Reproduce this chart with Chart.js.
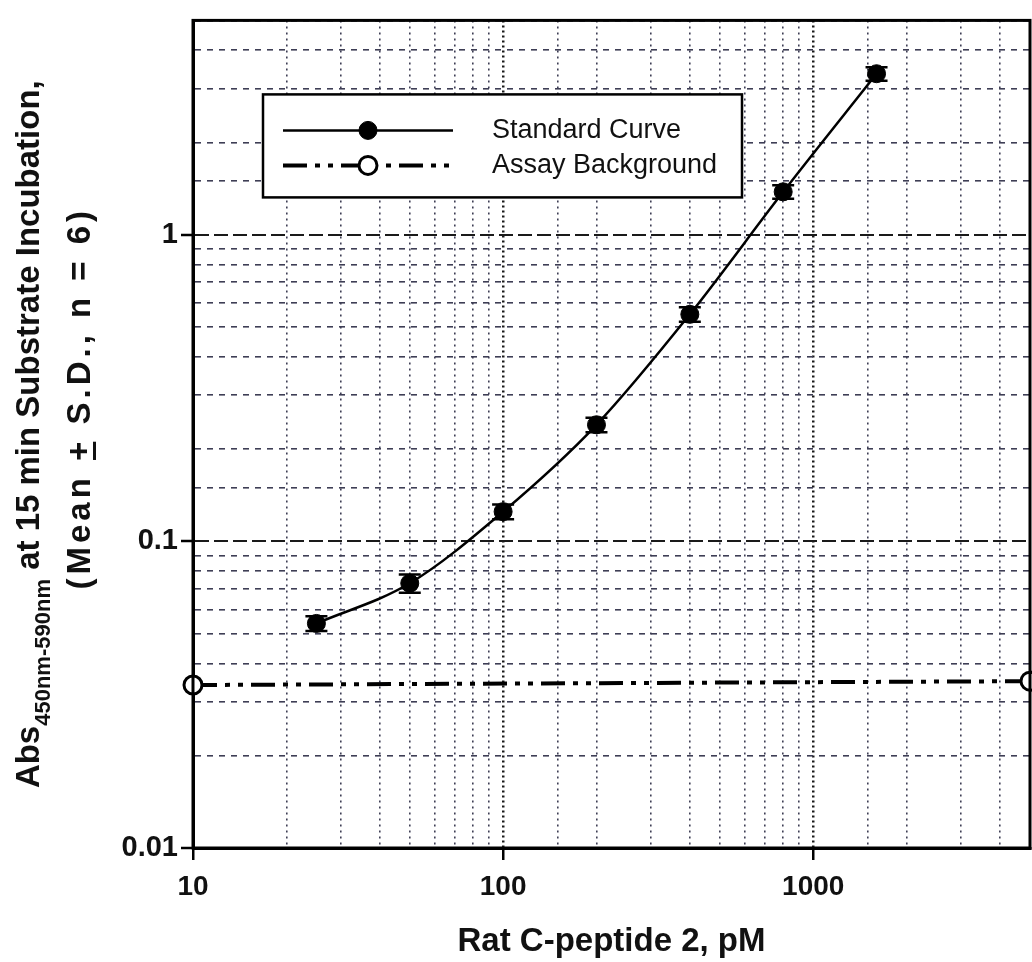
<!DOCTYPE html>
<html>
<head>
<meta charset="utf-8">
<title>Rat C-peptide 2 standard curve</title>
<script src="https://cdn.jsdelivr.net/npm/chart.js@4.4.1/dist/chart.umd.min.js"></script>
<style>
    html, body { margin: 0; padding: 0; background: #fff; }
    #wrap { position: relative; width: 1032px; height: 962px; }
</style>
</head>
<body>
<div id="wrap"><canvas id="curveChart"></canvas></div>
<script>
// --- Data ---
const concPM = [25, 50, 100, 200, 400, 800, 1600];
const absMean = [0.054, 0.073, 0.125, 0.24, 0.55, 1.38, 3.35];
const absSD = [0.003, 0.005, 0.007, 0.013, 0.03, 0.07, 0.17];

const bgConc = [10, 5000];
const bgAbs = [0.034, 0.035];

const xTickLabels = [10, 100, 1000];
const yTickLabels = [0.01, 0.1, 1];

const FONT = '"Liberation Sans", Arial, sans-serif';

function isDecade(v) {
    const l = Math.log10(v);
    return Math.abs(l - Math.round(l)) < 1e-6;
}
function findLabel(list, v) {
    return list.find(t => Math.abs(t - v) / t < 1e-6);
}

// --- Plugins ---

// full frame round the plot area
const framePlugin = {
    id: 'frame',
    afterDatasetsDraw(chart) {
        const { ctx, chartArea: a } = chart;
        ctx.save();
        ctx.strokeStyle = '#000';
        ctx.lineWidth = 3;
        ctx.strokeRect(a.left, a.top, a.right - a.left, a.bottom - a.top);
        ctx.restore();
    }
};

// mean +/- SD bars for the standard curve
const errorBarPlugin = {
    id: 'errorBars',
    beforeDatasetsDraw(chart) {
        const { ctx, scales: { x, y } } = chart;
        ctx.save();
        ctx.strokeStyle = '#000';
        ctx.lineWidth = 2.5;
        concPM.forEach((c, i) => {
            const px = x.getPixelForValue(c);
            const top = y.getPixelForValue(absMean[i] + absSD[i]);
            const bot = y.getPixelForValue(absMean[i] - absSD[i]);
            ctx.beginPath();
            ctx.moveTo(px, top); ctx.lineTo(px, bot);
            ctx.moveTo(px - 11, top); ctx.lineTo(px + 11, top);
            ctx.moveTo(px - 11, bot); ctx.lineTo(px + 11, bot);
            ctx.stroke();
        });
        ctx.restore();
    }
};

// boxed legend with line + marker samples
const boxLegendPlugin = {
    id: 'boxLegend',
    afterDraw(chart) {
        const { ctx, chartArea: a } = chart;
        const left = a.left + 70, top = a.top + 74;
        const w = 479, h = 103;
        ctx.save();
        ctx.fillStyle = '#fff';
        ctx.fillRect(left, top, w, h);
        ctx.strokeStyle = '#000';
        ctx.lineWidth = 2.5;
        ctx.strokeRect(left, top, w, h);

        const rows = [top + 36, top + 71];
        chart.data.datasets.forEach((ds, i) => {
            const ry = rows[i];
            ctx.strokeStyle = ds.borderColor;
            ctx.lineWidth = ds.borderWidth;
            ctx.setLineDash(ds.borderDash || []);
            ctx.beginPath();
            ctx.moveTo(left + 20, ry);
            ctx.lineTo(left + 190, ry);
            ctx.stroke();
            ctx.setLineDash([]);
            ctx.beginPath();
            ctx.arc(left + 105, ry, ds.pointRadius, 0, Math.PI * 2);
            ctx.fillStyle = ds.pointBackgroundColor;
            ctx.fill();
            ctx.lineWidth = ds.pointBorderWidth;
            ctx.strokeStyle = ds.pointBorderColor;
            ctx.stroke();

            ctx.fillStyle = '#111';
            ctx.font = '27px ' + FONT;
            ctx.textBaseline = 'middle';
            ctx.fillText(ds.label, left + 229, ry);
        });
        ctx.restore();
    }
};

// rotated y title with subscript and underlined plus
const yTitlePlugin = {
    id: 'yTitle',
    afterDraw(chart) {
        const { ctx, chartArea: a } = chart;
        const cy = (a.top + a.bottom) / 2;
        const main = 'bold 33px ' + FONT;
        const sub = 'bold 22px ' + FONT;

        ctx.save();
        ctx.fillStyle = '#111';
        ctx.textBaseline = 'alphabetic';

        // line 1
        ctx.save();
        ctx.translate(39, cy);
        ctx.rotate(-Math.PI / 2);
        const p1 = 'Abs', p2 = '450nm-590nm', p3 = ' at 15 min Substrate Incubation,';
        ctx.font = main;
        const w1 = ctx.measureText(p1).width, w3 = ctx.measureText(p3).width;
        ctx.font = sub;
        const w2 = ctx.measureText(p2).width;
        let x = -(w1 + w2 + w3) / 2;
        ctx.font = main; ctx.fillText(p1, x, 0); x += w1;
        ctx.font = sub; ctx.fillText(p2, x, 11); x += w2;
        ctx.font = main; ctx.fillText(p3, x, 0);
        ctx.restore();

        // line 2 (set a bit wider in the scan)
        ctx.save();
        ctx.translate(90, cy - 36);
        ctx.rotate(-Math.PI / 2);
        ctx.letterSpacing = '4px';
        const q1 = '(Mean ', q2 = '+', q3 = ' S.D., n = 6)';
        ctx.font = main;
        const v1 = ctx.measureText(q1).width, v2 = ctx.measureText(q2).width, v3 = ctx.measureText(q3).width;
        let s = -(v1 + v2 + v3) / 2;
        ctx.fillText(q1, s, 0);
        ctx.fillText(q2, s + v1, 0);
        ctx.fillRect(s + v1 + 1, 3, v2 - 5, 3);
        ctx.fillText(q3, s + v1 + v2, 0);
        ctx.restore();

        ctx.restore();
    }
};

// --- Chart ---

function gridStyle(majorColor, minorColor, majorWidth, minorWidth) {
    return {
        color: c => isDecade(c.tick.value) ? majorColor : minorColor,
        lineWidth: c => isDecade(c.tick.value) ? majorWidth : minorWidth,
        tickColor: c => isDecade(c.tick.value) ? '#000' : 'rgba(0,0,0,0)',
        tickLength: 12,
        tickWidth: 2.5,
        tickBorderDash: []
    };
}

Chart.defaults.font.family = FONT;
Chart.defaults.color = '#111';

new Chart(document.getElementById('curveChart').getContext('2d'), {
    type: 'line',
    data: {
        datasets: [
            {
                label: 'Standard Curve',
                data: concPM.map((c, i) => ({ x: c, y: absMean[i] })),
                borderColor: '#000',
                borderWidth: 2.5,
                cubicInterpolationMode: 'monotone',
                pointRadius: 9,
                pointBackgroundColor: '#000',
                pointBorderColor: '#000',
                pointBorderWidth: 1,
                clip: false
            },
            {
                label: 'Assay Background',
                data: bgConc.map((c, i) => ({ x: c, y: bgAbs[i] })),
                borderColor: '#000',
                borderWidth: 4,
                borderDash: [24, 8, 5, 8, 5, 8],
                pointRadius: 9,
                pointBackgroundColor: '#fff',
                pointBorderColor: '#000',
                pointBorderWidth: 3,
                clip: false
            }
        ]
    },
    options: {
        responsive: true,
        maintainAspectRatio: false,
        animation: false,
        layout: { autoPadding: false, padding: { top: 18, right: 2, left: 0, bottom: 0 } },
        plugins: {
            legend: { display: false },
            tooltip: { enabled: false }
        },
        scales: {
            x: {
                type: 'logarithmic',
                min: 10,
                max: 5000,
                // fixed band height; drop the right padding the tick padding adds
                afterFit: s => { s.height = 114; s.paddingRight = 0; },
                grid: gridStyle('#1a1a1a', '#3e3e55', 2.5, 1.6),
                border: {
                    color: '#000',
                    width: 3,
                    dash: c => isDecade(c.tick.value) ? [2, 3] : [2, 4]
                },
                ticks: {
                    autoSkip: false,
                    maxRotation: 0,
                    padding: 10,
                    font: { size: 28, weight: 'bold' },
                    callback: v => {
                        const t = findLabel(xTickLabels, v);
                        return t ? String(t) : '';
                    }
                },
                title: {
                    display: true,
                    text: 'Rat C-peptide 2, pM',
                    font: { size: 33, weight: 'bold' },
                    padding: { top: 0, bottom: 0 }
                }
            },
            y: {
                type: 'logarithmic',
                min: 0.01,
                max: 5,
                afterFit: s => { s.width = 193; },
                grid: gridStyle('#1a1a1a', '#3e3e55', 2, 1.6),
                border: {
                    color: '#000',
                    width: 3,
                    dash: c => isDecade(c.tick.value) ? [14, 5] : [6, 6]
                },
                ticks: {
                    autoSkip: false,
                    padding: 3,
                    font: { size: 29, weight: 'bold' },
                    callback: v => {
                        const t = findLabel(yTickLabels, v);
                        return t ? String(t) : '';
                    }
                }
            }
        }
    },
    plugins: [errorBarPlugin, framePlugin, boxLegendPlugin, yTitlePlugin]
});
</script>
</body>
</html>
